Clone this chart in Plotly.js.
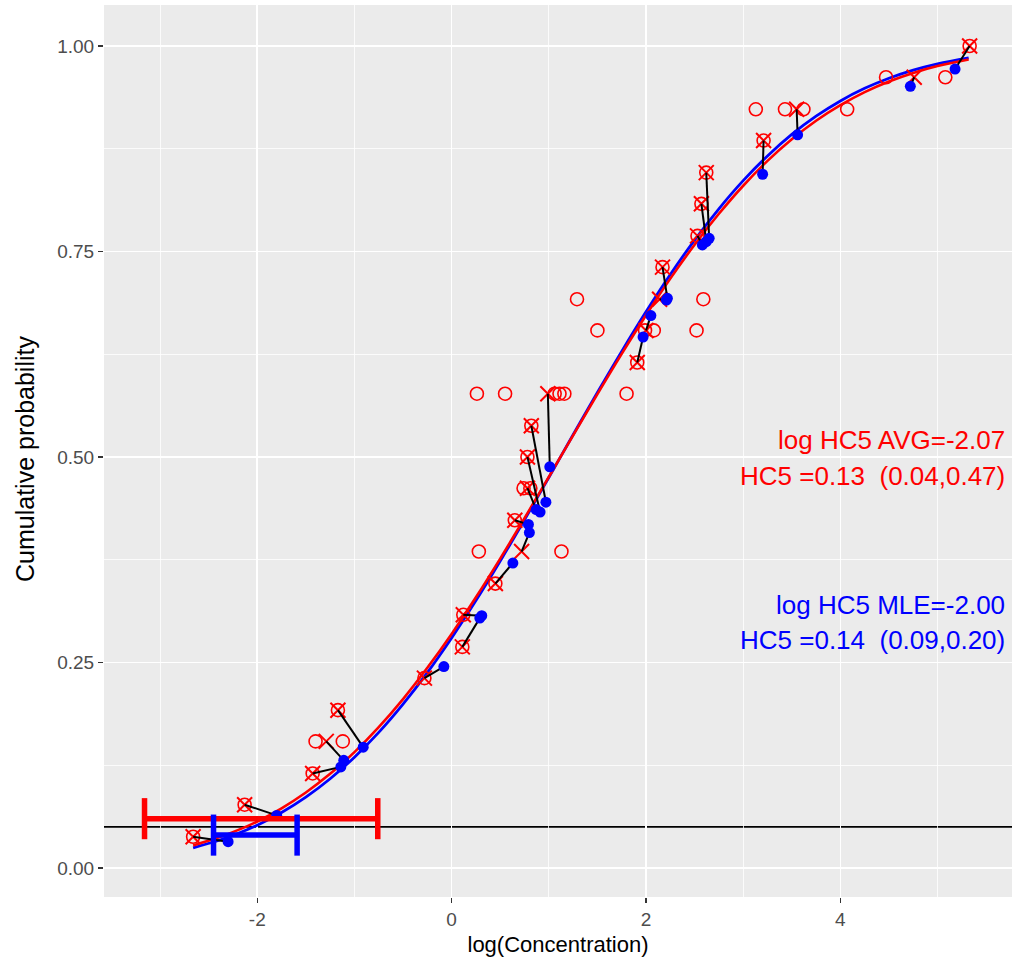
<!DOCTYPE html>
<html>
<head>
<meta charset="utf-8">
<script src="https://cdn.plot.ly/plotly-3.0.1.min.js"></script>
<style>html,body{margin:0;padding:0;background:#fff;}#chart{width:1013px;height:961px;}</style>
</head>
<body>
<div id="chart"></div>
<script>
// ---- data ----
// species ranks (cumulative plotting position)
const rankY = [0.038,0.077,0.115,0.154,0.192,0.231,0.269,0.308,0.346,0.385,0.423,0.462,0.500,
               0.538,0.577,0.615,0.654,0.692,0.731,0.769,0.808,0.846,0.885,0.923,0.962,1.000];
// species average log concentration (red X)
const avgX = [-2.66,-2.13,-1.43,-1.29,-1.17,-0.28,0.11,0.12,0.45,0.72,0.65,0.78,0.78,
              0.82,0.99,1.91,2.00,2.14,2.17,2.53,2.57,2.62,3.21,3.55,4.76,5.33];
// MLE positions (blue points)
const mleX = [-2.30,-1.80,-1.14,-1.11,-0.91,-0.08,0.29,0.31,0.63,0.80,0.79,0.87,0.91,
              0.97,1.01,1.97,2.05,2.21,2.22,2.58,2.62,2.65,3.20,3.56,4.72,5.18];
const mleY = [0.032,0.064,0.123,0.131,0.147,0.245,0.304,0.307,0.371,0.408,0.418,0.436,0.433,
              0.445,0.488,0.646,0.672,0.691,0.693,0.758,0.762,0.766,0.844,0.892,0.951,0.972];
// individual observations (red open circles)
const obsX = [-2.66,-2.13,-1.43,-1.40,-1.12,-1.17,-0.28,0.11,0.12,0.45,0.28,1.13,0.65,0.74,0.81,
              0.78,0.82,0.26,0.55,1.06,1.11,1.16,1.80,1.91,1.50,1.99,2.08,2.52,1.29,2.59,
              2.17,2.53,2.57,2.62,3.21,3.13,3.43,3.62,4.07,4.47,5.08,5.33];
const obsY = [0.038,0.077,0.115,0.154,0.154,0.192,0.231,0.269,0.308,0.346,0.385,0.385,0.423,0.462,0.462,
              0.500,0.538,0.577,0.577,0.577,0.577,0.577,0.577,0.615,0.654,0.654,0.654,0.654,0.692,0.692,
              0.731,0.769,0.808,0.846,0.885,0.923,0.923,0.923,0.923,0.962,0.962,1.000];
// fitted cumulative curves
const curveX = [-2.66,-2.4,-2.2,-2.0,-1.75,-1.5,-1.25,-1.0,-0.75,-0.5,-0.25,0,0.25,0.5,0.75,1.0,1.25,
                1.5,1.75,2.0,2.25,2.5,2.75,3.0,3.25,3.5,3.75,4.0,4.25,4.5,4.75,5.0,5.32];
const avgCurveY = [0.0275,0.0370,0.0460,0.0566,0.0726,0.0918,0.1145,0.1409,0.1713,0.2055,0.2435,0.2848,
                   0.3293,0.3764,0.4255,0.4757,0.5263,0.5765,0.6255,0.6725,0.7170,0.7583,0.7959,0.8300,
                   0.8602,0.8865,0.9091,0.9281,0.9440,0.9569,0.9673,0.9756,0.9835];
const mleCurveY = [0.0245,0.0334,0.0419,0.0521,0.0675,0.0862,0.1086,0.1348,0.1650,0.1994,0.2377,0.2799,
                   0.3253,0.3734,0.4236,0.4751,0.5270,0.5785,0.6285,0.6766,0.7220,0.7639,0.8020,0.8362,
                   0.8663,0.8925,0.9146,0.9332,0.9485,0.9608,0.9707,0.9784,0.9857];
// HC5 confidence intervals (log scale)
const avgCI = [-3.16,-0.76]; const avgCIy = 0.060;
const mleCI = [-2.45,-1.59]; const mleCIy = 0.040;
const hcLevel = 0.05;
const xTickVals = [-2,0,2,4];
const xTickText = ['-2','0','2','4'];
const yTickVals = [0,0.25,0.5,0.75,1];
const yTickText = ['0.00','0.25','0.50','0.75','1.00'];
const labelsAvg = ['log HC5 AVG=-2.07','HC5 =0.13\u00a0\u00a0(0.04,0.47)'];
const labelsMle = ['log HC5 MLE=-2.00','HC5 =0.14\u00a0\u00a0(0.09,0.20)'];

const RED = '#FF0000', BLUE = '#0000FF';
const FONT = 'Liberation Sans, Arial, Helvetica, sans-serif';
const capHalf = 0.025;

// segments from average X to MLE point
const segX = [], segY = [];
for (let i = 0; i < avgX.length; i++) {
  segX.push(avgX[i], mleX[i], null);
  segY.push(rankY[i], mleY[i], null);
}
function ciTraces(ci, y, color) {
  return [
    {x: [ci[0], ci[1]], y: [y, y], mode: 'lines', line: {color: color, width: 5.5}, hoverinfo: 'skip'},
    {x: [ci[0], ci[0], null, ci[1], ci[1]], y: [y - capHalf, y + capHalf, null, y - capHalf, y + capHalf],
     mode: 'lines', line: {color: color, width: 5.5}, hoverinfo: 'skip'}
  ];
}

const traces = [
  {x: curveX, y: mleCurveY, mode: 'lines', line: {color: BLUE, width: 2.8, shape: 'spline'}},
  {x: curveX, y: avgCurveY, mode: 'lines', line: {color: RED, width: 2.6, shape: 'spline'}},
  {x: obsX, y: obsY, mode: 'markers', marker: {symbol: 'circle-open', size: 13, color: RED, line: {width: 1.6, color: RED}}},
  {x: avgX, y: rankY, mode: 'markers', marker: {symbol: 'x-thin-open', size: 15, color: RED, line: {width: 2, color: RED}}},
  {x: segX, y: segY, mode: 'lines', line: {color: '#000000', width: 2}},
  {x: mleX, y: mleY, mode: 'markers', marker: {symbol: 'circle', size: 11, color: BLUE}},
  ...ciTraces(avgCI, avgCIy, RED),
  ...ciTraces(mleCI, mleCIy, BLUE)
];

const annY = [0.521, 0.477, 0.320, 0.277];
const annotations = [];
[labelsAvg[0], labelsAvg[1], labelsMle[0], labelsMle[1]].forEach((t, k) => {
  annotations.push({text: t, xref: 'paper', yref: 'y', x: 0.995, y: annY[k], xanchor: 'right', yanchor: 'middle',
    showarrow: false, font: {family: FONT, size: 26, color: k < 2 ? RED : BLUE}});
});
annotations.push({text: 'Cumulative probability', xref: 'paper', yref: 'y', x: -0.087, y: 0.4976,
  xanchor: 'center', yanchor: 'middle', textangle: -90, showarrow: false,
  font: {family: FONT, size: 25, color: '#000000'}});

const layout = {
  width: 1013, height: 961,
  margin: {l: 104, r: 1, t: 5, b: 64},
  paper_bgcolor: '#FFFFFF', plot_bgcolor: '#EBEBEB',
  showlegend: false,
  font: {family: FONT},
  xaxis: {
    range: [-3.577, 5.766], tickmode: 'array', tickvals: xTickVals, ticktext: xTickText,
    showgrid: true, gridcolor: '#FFFFFF', gridwidth: 1.6, zeroline: false, showline: false,
    ticks: 'outside', ticklen: 5, tickwidth: 1.2, tickcolor: '#333333',
    tickfont: {family: FONT, size: 19, color: '#4D4D4D'},
    minor: {tickmode: 'array', tickvals: [-3,-1,1,3,5], showgrid: true, gridcolor: '#FFFFFF', gridwidth: 0.8, ticks: ''},
    title: {text: 'log(Concentration)', font: {family: FONT, size: 22, color: '#000000'}, standoff: 7},
    automargin: false
  },
  yaxis: {
    range: [-0.0353, 1.0499], tickmode: 'array', tickvals: yTickVals, ticktext: yTickText,
    showgrid: true, gridcolor: '#FFFFFF', gridwidth: 1.6, zeroline: false, showline: false,
    ticks: 'outside', ticklen: 5, tickwidth: 1.2, tickcolor: '#333333',
    tickfont: {family: FONT, size: 19, color: '#4D4D4D'},
    minor: {tickmode: 'array', tickvals: [0.125,0.375,0.625,0.875], showgrid: true, gridcolor: '#FFFFFF', gridwidth: 0.8, ticks: ''},
    automargin: false
  },
  shapes: [{type: 'line', xref: 'paper', yref: 'y', x0: 0, x1: 1, y0: hcLevel, y1: hcLevel,
            line: {color: '#000000', width: 1.6}, layer: 'below'}],
  annotations: annotations
};

Plotly.newPlot('chart', traces, layout, {displayModeBar: false, staticPlot: true});
</script>
</body>
</html>
